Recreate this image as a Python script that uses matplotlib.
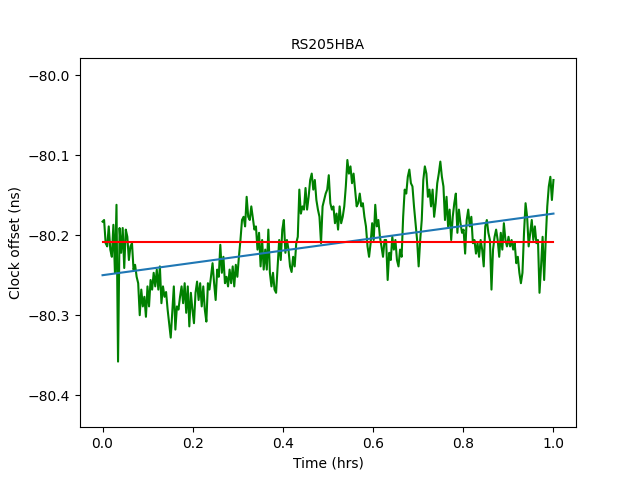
import numpy as np
import matplotlib
matplotlib.use("Agg")
import matplotlib.pyplot as plt

title = "RS205HBA"

offset_ns = [
    -80.183, -80.181, -80.210, -80.214, -80.189, -80.218, -80.227, -80.187,
    -80.247, -80.162, -80.358, -80.191, -80.222, -80.191, -80.241, -80.193, -80.202, -80.231,
    -80.214, -80.210, -80.243, -80.237, -80.252, -80.260, -80.300, -80.268, -80.289, -80.277,
    -80.302, -80.264, -80.289, -80.256, -80.268, -80.247, -80.264, -80.243, -80.268, -80.239,
    -80.285, -80.264, -80.277, -80.271, -80.293, -80.310, -80.328, -80.297, -80.264, -80.318,
    -80.289, -80.293, -80.277, -80.264, -80.285, -80.260, -80.297, -80.264, -80.314, -80.272,
    -80.293, -80.310, -80.272, -80.258, -80.281, -80.260, -80.289, -80.264, -80.293, -80.308,
    -80.260, -80.268, -80.252, -80.235, -80.260, -80.281, -80.243, -80.252, -80.212, -80.247,
    -80.227, -80.260, -80.252, -80.264, -80.243, -80.260, -80.239, -80.264, -80.237, -80.252,
    -80.227, -80.206, -80.181, -80.177, -80.189, -80.152, -80.177,
    -80.181, -80.164, -80.178, -80.193, -80.189, -80.218, -80.197, -80.239, -80.206, -80.243,
    -80.218, -80.243, -80.193, -80.247, -80.264, -80.247, -80.268, -80.272, -80.239, -80.206,
    -80.231, -80.193, -80.181, -80.222, -80.206, -80.218, -80.239, -80.246, -80.227, -80.239,
    -80.210, -80.202, -80.143, -80.173, -80.164, -80.168, -80.141, -80.168, -80.152, -80.131,
    -80.123, -80.143, -80.131, -80.156, -80.168, -80.177, -80.210, -80.164, -80.156, -80.148,
    -80.143, -80.125, -80.160, -80.168, -80.164, -80.185, -80.173, -80.193, -80.164, -80.185,
    -80.177, -80.164, -80.139, -80.106, -80.123, -80.114, -80.135, -80.123, -80.143, -80.164,
    -80.160, -80.148, -80.164, -80.160, -80.177, -80.189, -80.214, -80.227, -80.210, -80.185,
    -80.206, -80.162, -80.189, -80.181, -80.202, -80.214, -80.227, -80.206,
    -80.206, -80.256, -80.222, -80.231, -80.202, -80.218, -80.206, -80.231, -80.239, -80.218,
    -80.227, -80.177, -80.143, -80.148, -80.127, -80.118, -80.135, -80.139, -80.164, -80.185,
    -80.206, -80.239, -80.206, -80.181, -80.131, -80.114, -80.123, -80.152, -80.143, -80.164,
    -80.143, -80.177, -80.160, -80.135, -80.123, -80.108, -80.127, -80.139, -80.181, -80.152,
    -80.189, -80.168, -80.206, -80.177, -80.160, -80.148, -80.197, -80.168, -80.185, -80.197,
    -80.193, -80.223, -80.181, -80.168, -80.189, -80.177, -80.210, -80.206, -80.223, -80.210,
    -80.227, -80.206, -80.218, -80.239, -80.189, -80.181, -80.197, -80.206, -80.268, -80.218,
    -80.202, -80.193, -80.206, -80.227, -80.197, -80.218, -80.185, -80.206, -80.214, -80.202,
    -80.214, -80.206, -80.218, -80.210, -80.235, -80.227, -80.247, -80.260, -80.247, -80.197,
    -80.160, -80.177, -80.214, -80.197, -80.181, -80.206, -80.189, -80.210, -80.206, -80.272,
    -80.239, -80.202, -80.256, -80.206, -80.164, -80.139, -80.127, -80.156, -80.131,
]

time_hrs = np.linspace(0.0, 1.0, len(offset_ns))

fit_time = [0.0, 1.0]
fit_offset = [-80.250, -80.173]

mean_offset = -80.208

fig, ax = plt.subplots(figsize=(6.4, 4.8), dpi=100)
ax.plot(time_hrs, offset_ns, color="green")
ax.plot(fit_time, fit_offset)
ax.plot([time_hrs[0], time_hrs[-1]], [mean_offset, mean_offset], color="red")
ax.set_ylim(-80.44, -79.978)
ax.set_xlabel("Time (hrs)")
ax.set_ylabel("Clock offset (ns)")
ax.set_title(title, fontsize=10)
fig.savefig("out.png")
